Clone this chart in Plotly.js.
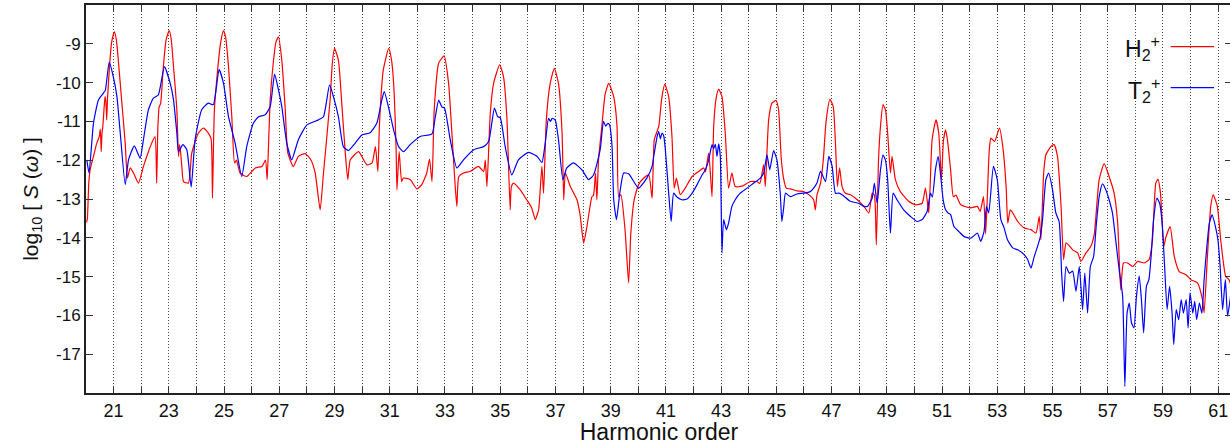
<!DOCTYPE html>
<html>
<head>
<meta charset="utf-8">
<script src="https://cdn.plot.ly/plotly-3.0.1.min.js"></script>
<style>
html,body{margin:0;padding:0;background:#fff;overflow:hidden;width:1230px;height:445px;}
#chart{width:1240px;height:445px;}
</style>
</head>
<body>
<div id="chart"></div>
<script>
// Harmonic order (x) and log10 S(omega) (y) for H2+
const h2X = [20.02,20.05,20.1,20.15,20.27,20.39,20.48,20.52,20.55,20.58,20.61,20.66,20.69,20.72,20.75,20.78,20.85,20.93,21.03,21.1,21.17,21.29,21.42,21.5,21.6,21.72,21.9,22.08,22.25,22.38,22.5,22.56,22.6,22.65,22.7,22.8,22.9,23.01,23.08,23.17,23.29,23.35,23.39,23.42,23.47,23.53,23.71,23.83,24.07,24.25,24.43,24.53,24.58,24.62,24.65,24.75,24.88,24.98,25.06,25.16,25.28,25.38,25.45,25.58,25.82,26.13,26.37,26.5,26.56,26.62,26.67,26.78,26.88,26.97,27.09,27.21,27.31,27.51,27.69,27.94,28.15,28.3,28.48,28.6,28.84,28.92,29.0,29.14,29.27,29.39,29.48,29.57,29.87,30.17,30.36,30.48,30.57,30.62,30.66,30.76,30.96,31.06,31.14,31.23,31.26,31.34,31.43,31.49,31.74,31.98,32.16,32.34,32.44,32.53,32.61,32.77,32.97,33.13,33.25,33.37,33.43,33.5,33.67,33.91,34.21,34.4,34.46,34.52,34.64,34.76,34.98,35.12,35.24,35.36,35.4,35.48,35.72,35.96,36.14,36.27,36.39,36.51,36.57,36.67,36.81,36.96,37.11,37.24,37.3,37.36,37.54,37.78,37.9,38.02,38.14,38.32,38.38,38.45,38.5,38.56,38.68,38.8,38.93,39.11,39.23,39.29,39.37,39.52,39.65,39.73,39.85,40.01,40.2,40.38,40.5,40.58,40.74,40.85,40.96,41.1,41.22,41.3,41.38,41.52,41.7,41.95,42.19,42.37,42.43,42.55,42.67,42.73,42.82,42.91,43.03,43.15,43.27,43.39,43.51,43.75,44.06,44.3,44.4,44.54,44.6,44.72,44.84,44.99,45.08,45.18,45.27,45.36,45.51,45.75,45.99,46.23,46.35,46.41,46.47,46.6,46.7,46.8,46.94,47.06,47.14,47.21,47.29,47.38,47.5,47.68,47.93,48.17,48.35,48.47,48.55,48.62,48.7,48.77,48.86,48.95,49.03,49.13,49.19,49.31,49.49,49.79,50.04,50.28,50.4,50.52,50.64,50.78,50.88,50.98,51.05,51.13,51.2,51.31,51.41,51.5,51.68,52.04,52.28,52.38,52.5,52.58,52.71,52.77,52.9,53.08,53.2,53.32,53.38,53.47,53.56,53.74,53.98,54.22,54.4,54.52,54.58,54.68,54.76,54.94,55.06,55.18,55.31,55.4,55.49,55.6,55.73,55.91,56.03,56.21,56.39,56.51,56.69,56.87,57.05,57.23,57.36,57.47,57.57,57.72,57.9,58.08,58.32,58.5,58.62,58.74,58.82,58.91,59.03,59.1,59.26,59.41,59.59,59.83,60.01,60.25,60.43,60.49,60.61,60.73,60.82,60.97,61.09,61.27,61.39,61.5];
const h2Y = [-13.6,-13.5,-12.6,-12.25,-11.9,-11.56,-11.39,-11.2,-11.78,-11.3,-11.13,-10.6,-10.36,-10.5,-10.96,-10.4,-9.6,-8.95,-8.69,-8.9,-9.42,-10.45,-11.56,-12.46,-12.2,-12.33,-12.59,-12.16,-11.8,-11.56,-11.39,-12.59,-11.2,-10.62,-10.55,-9.6,-8.9,-8.66,-8.85,-9.59,-10.7,-11.9,-11.6,-11.75,-12.16,-12.55,-12.59,-11.82,-11.3,-11.17,-11.3,-11.45,-12.98,-11.5,-10.7,-9.8,-8.95,-8.66,-8.85,-9.59,-10.88,-12.07,-12.0,-12.33,-12.42,-12.2,-12.16,-12.0,-12.5,-11.4,-10.45,-9.5,-8.95,-8.82,-9.42,-10.62,-11.82,-12.16,-11.9,-11.83,-12.0,-12.33,-13.28,-12.33,-10.45,-9.5,-9.12,-9.42,-10.62,-11.82,-12.5,-11.99,-11.78,-12.12,-12.07,-11.65,-12.29,-11.2,-10.62,-9.7,-9.12,-9.4,-10.02,-11.73,-12.76,-11.78,-12.55,-12.46,-12.5,-12.74,-12.63,-12.33,-11.97,-12.55,-10.7,-9.5,-9.31,-10.02,-11.3,-12.68,-13.19,-12.42,-12.33,-12.29,-12.16,-12.29,-12.0,-12.68,-10.79,-10.02,-9.54,-9.85,-10.88,-13.28,-12.7,-12.59,-12.76,-13.02,-13.23,-13.53,-13.28,-12.16,-12.85,-10.96,-10.02,-9.63,-10.02,-11.3,-13.02,-12.33,-12.68,-13.02,-13.45,-14.14,-13.71,-12.94,-12.9,-12.33,-13.02,-11.99,-11.13,-10.3,-10.02,-10.36,-11.13,-12.94,-12.89,-13.79,-15.16,-13.88,-13.02,-12.63,-12.46,-12.38,-12.98,-11.47,-11.13,-10.4,-10.04,-10.36,-11.39,-12.72,-12.46,-12.89,-12.72,-12.42,-12.29,-12.2,-12.3,-11.82,-12.94,-11.13,-10.4,-10.17,-10.36,-11.3,-12.72,-12.33,-12.68,-12.67,-12.55,-12.55,-12.6,-12.12,-12.68,-10.96,-10.53,-10.46,-10.7,-11.99,-12.5,-12.72,-12.74,-12.79,-12.81,-12.92,-13.02,-13.28,-12.9,-12.59,-11.99,-11.0,-10.43,-10.62,-11.56,-12.68,-12.2,-12.68,-12.85,-12.89,-13.02,-13.19,-13.36,-12.85,-12.9,-14.18,-11.99,-11.13,-10.57,-10.7,-11.3,-12.33,-11.9,-12.5,-12.81,-13.06,-13.15,-13.11,-12.72,-13.36,-11.47,-10.96,-11.3,-12.5,-11.5,-11.22,-11.5,-12.25,-12.94,-12.9,-13.15,-13.23,-13.19,-13.32,-12.94,-13.9,-11.73,-11.43,-11.52,-11.17,-11.65,-12.68,-13.62,-13.28,-13.36,-13.58,-13.75,-13.79,-13.88,-13.45,-14.05,-12.33,-11.86,-11.65,-11.6,-11.9,-13.19,-14.56,-14.13,-14.2,-14.31,-14.39,-14.61,-14.39,-14.22,-13.92,-12.5,-12.09,-12.42,-12.85,-13.62,-15.34,-14.65,-14.65,-14.74,-14.61,-14.65,-14.56,-14.05,-12.59,-12.49,-12.85,-14.22,-14.0,-13.71,-14.48,-14.87,-14.95,-15.08,-15.16,-15.59,-15.93,-14.48,-13.19,-12.89,-13.19,-14.05,-14.99,-15.08,-15.3];

// Harmonic order (x) and log10 S(omega) (y) for T2+
const t2X = [20.03,20.11,20.27,20.45,20.63,20.7,20.84,20.99,21.12,21.24,21.42,21.54,21.75,21.96,22.08,22.26,22.44,22.62,22.84,23.05,23.17,23.29,23.35,23.51,23.65,23.81,23.95,24.19,24.43,24.61,24.82,24.98,25.16,25.4,25.64,25.82,26.06,26.25,26.49,26.67,26.83,26.97,27.09,27.27,27.45,27.69,28.0,28.42,28.6,28.82,28.96,29.14,29.32,29.5,29.75,29.99,30.29,30.53,30.71,30.8,30.95,31.14,31.32,31.5,31.74,32.1,32.53,32.65,32.77,32.89,32.98,33.19,33.43,33.67,34.04,34.4,34.58,34.79,34.91,35.0,35.18,35.42,35.66,36.03,36.33,36.51,36.63,36.75,36.82,36.88,36.99,37.11,37.27,37.41,37.65,37.96,38.2,38.38,38.62,38.74,38.82,38.9,38.96,39.05,39.11,39.21,39.33,39.47,39.65,40.01,40.32,40.5,40.55,40.68,40.74,40.8,40.86,40.92,40.98,41.1,41.19,41.28,41.4,41.58,41.77,41.95,42.13,42.31,42.43,42.55,42.67,42.73,42.79,42.85,42.91,42.97,43.03,43.09,43.19,43.27,43.39,43.51,43.69,43.94,44.18,44.42,44.54,44.66,44.76,44.9,45.02,45.14,45.2,45.27,45.33,45.51,45.75,45.99,46.23,46.35,46.47,46.6,46.78,46.9,47.02,47.14,47.26,47.38,47.68,47.98,48.17,48.3,48.47,48.55,48.65,48.77,48.86,48.95,49.03,49.13,49.23,49.37,49.61,49.86,50.1,50.28,50.46,50.58,50.65,50.76,50.86,50.94,51.04,51.13,51.22,51.31,51.43,51.61,51.8,52.04,52.28,52.4,52.52,52.61,52.69,52.86,53.0,53.13,53.25,53.37,53.56,53.74,53.98,54.1,54.22,54.34,54.46,54.56,54.64,54.76,54.86,55.0,55.12,55.24,55.33,55.4,55.49,55.61,55.73,55.85,55.97,56.09,56.17,56.27,56.37,56.49,56.58,56.69,56.81,56.93,57.05,57.17,57.3,57.42,57.54,57.62,57.7,57.78,57.86,57.95,58.04,58.14,58.22,58.3,58.4,58.49,58.58,58.66,58.78,58.88,58.97,59.06,59.15,59.24,59.33,59.39,59.48,59.57,59.66,59.74,59.84,59.91,59.98,60.08,60.15,60.22,60.32,60.41,60.49,60.59,60.68,60.78,60.9,60.99,61.07,61.16,61.26,61.34,61.45];
const t2Y = [-11.99,-12.33,-11.05,-10.45,-10.27,-10.2,-9.47,-9.85,-10.36,-11.3,-12.63,-11.99,-11.63,-11.95,-11.47,-10.7,-10.4,-10.32,-9.59,-10.02,-10.45,-11.3,-11.78,-11.6,-11.73,-12.69,-11.47,-10.7,-10.53,-10.57,-9.66,-10.02,-10.88,-11.56,-12.42,-11.65,-11.05,-10.88,-10.83,-10.62,-9.78,-10.19,-10.62,-11.56,-11.99,-11.47,-11.09,-10.96,-10.88,-10.06,-10.36,-10.88,-11.65,-11.75,-11.56,-11.35,-11.29,-11.05,-10.45,-10.23,-10.62,-11.22,-11.65,-11.78,-11.6,-11.39,-11.32,-10.88,-10.45,-10.63,-10.65,-11.47,-12.2,-11.99,-11.73,-11.65,-11.52,-10.66,-10.88,-10.9,-11.65,-12.38,-11.99,-11.8,-11.9,-12.06,-11.56,-10.92,-11.0,-10.92,-10.96,-11.47,-12.5,-12.2,-12.07,-12.25,-12.5,-12.38,-11.73,-11.0,-11.12,-11.05,-11.09,-11.65,-13.02,-13.53,-12.85,-12.33,-12.35,-12.72,-12.45,-12.16,-11.95,-11.39,-11.26,-11.45,-11.3,-11.37,-11.73,-12.85,-13.58,-12.85,-12.95,-13.02,-13.0,-12.85,-12.63,-12.38,-12.25,-11.99,-11.6,-11.7,-11.59,-11.9,-11.58,-11.9,-14.39,-13.53,-13.79,-13.62,-13.19,-13.02,-12.85,-12.72,-12.59,-12.46,-12.33,-11.86,-12.25,-11.75,-11.99,-12.85,-13.58,-13.19,-12.85,-12.94,-12.87,-12.85,-12.81,-12.72,-12.59,-12.29,-12.55,-11.9,-12.16,-12.85,-12.85,-12.89,-13.06,-13.11,-13.19,-13.19,-12.98,-12.59,-13.11,-12.25,-11.86,-12.0,-12.5,-13.88,-12.85,-13.02,-13.28,-13.45,-13.58,-13.53,-13.32,-12.85,-12.95,-12.25,-11.9,-12.33,-13.02,-13.28,-13.36,-13.4,-13.71,-13.84,-13.97,-14.01,-13.88,-14.09,-13.84,-13.19,-13.36,-12.16,-12.5,-13.53,-13.75,-14.05,-14.26,-14.31,-14.44,-14.56,-14.78,-14.48,-14.22,-13.97,-13.53,-12.5,-12.33,-12.76,-13.36,-13.58,-14.91,-15.64,-14.74,-14.91,-14.86,-15.38,-14.74,-15.85,-14.91,-15.94,-14.74,-14.48,-13.71,-12.94,-12.61,-12.76,-13.02,-13.36,-14.13,-14.86,-15.51,-17.83,-15.94,-15.68,-16.19,-16.32,-15.51,-14.99,-15.59,-16.45,-15.25,-15.08,-14.39,-13.53,-12.98,-13.11,-13.62,-14.74,-15.85,-15.25,-15.94,-16.75,-15.85,-16.11,-15.59,-15.94,-15.59,-16.32,-15.42,-15.94,-15.64,-16.11,-15.68,-15.94,-15.08,-14.22,-13.62,-13.41,-13.71,-14.05,-14.74,-15.85,-15.08,-16.02,-15.5];

const seriesNames = ['H<sub>2</sub><sup>+</sup>', 'T<sub>2</sub><sup>+</sup>'];
const seriesColors = ['#ff0000', '#0000ff'];

const xTickVals = [21,23,25,27,29,31,33,35,37,39,41,43,45,47,49,51,53,55,57,59,61];
const xTickText = xTickVals.map(String);
const yTickVals = [-9,-10,-11,-12,-13,-14,-15,-16,-17];
const yTickText = ['-9','-10','-11','-12','-13','-14','-15','-16','-17'];

const FONT = 'Liberation Sans, Arial, Helvetica, sans-serif';

const traces = [
  {x: h2X, y: h2Y, type: 'scatter', mode: 'lines', name: seriesNames[0],
   line: {color: seriesColors[0], width: 1.2, shape: 'spline', smoothing: 0.5}, showlegend: false},
  {x: t2X, y: t2Y, type: 'scatter', mode: 'lines', name: seriesNames[1],
   line: {color: seriesColors[1], width: 1.2, shape: 'spline', smoothing: 0.5}, showlegend: false}
];

const layout = {
  width: 1240, height: 445,
  margin: {l: 86, r: 8, t: 5, b: 52},
  paper_bgcolor: '#ffffff', plot_bgcolor: '#ffffff',
  font: {family: FONT, size: 17, color: '#111'},
  showlegend: false,
  xaxis: {
    range: [20, 61.5], tickmode: 'array', tickvals: xTickVals, ticktext: xTickText,
    ticks: 'inside', ticklen: 6, tickwidth: 1, tickcolor: '#333',
    showline: true, linecolor: '#222', linewidth: 2, mirror: 'allticks',
    showgrid: true, gridcolor: '#444', gridwidth: 1, griddash: '1px,2px',
    zeroline: false,
    minor: {dtick: 1, tick0: 20, ticks: 'inside', ticklen: 6, tickcolor: '#333',
            showgrid: true, gridcolor: '#444', gridwidth: 1, griddash: '1px,2px'},
    tickfont: {family: FONT, size: 18, color: '#111'},
    title: {text: 'Harmonic order', font: {family: FONT, size: 23, color: '#111'}, standoff: 1}
  },
  yaxis: {
    range: [-18, -8], tickmode: 'array', tickvals: yTickVals, ticktext: yTickText,
    ticks: 'inside', ticklen: 7, tickwidth: 1, tickcolor: '#333',
    showline: true, linecolor: '#222', linewidth: 2, mirror: 'allticks',
    showgrid: false, zeroline: false,
    tickfont: {family: FONT, size: 17, color: '#111'},
    title: {text: 'log<sub>10</sub> [ <i>S</i> (<i>ω</i>) ]', font: {family: FONT, size: 21, color: '#111'}, standoff: 12}
  },
  shapes: [
    {type: 'rect', xref: 'paper', yref: 'paper', x0: 0.92, x1: 0.998, y0: 0.696, y1: 0.985,
     fillcolor: '#ffffff', line: {width: 0}, layer: 'between'},
    {type: 'line', xref: 'paper', yref: 'paper', x0: 0.9465, x1: 0.9843, y0: 0.8925, y1: 0.8925,
     line: {color: seriesColors[0], width: 1.3}},
    {type: 'line', xref: 'paper', yref: 'paper', x0: 0.9465, x1: 0.9843, y0: 0.787, y1: 0.787,
     line: {color: seriesColors[1], width: 1.3}}
  ],
  annotations: [
    {xref: 'paper', yref: 'paper', x: 0.939, y: 0.89, xanchor: 'right', yanchor: 'middle',
     text: seriesNames[0], showarrow: false, font: {family: FONT, size: 23, color: '#111'}},
    {xref: 'paper', yref: 'paper', x: 0.939, y: 0.78, xanchor: 'right', yanchor: 'middle',
     text: seriesNames[1], showarrow: false, font: {family: FONT, size: 23, color: '#111'}}
  ]
};

Plotly.newPlot('chart', traces, layout, {displayModeBar: false, staticPlot: true});
</script>
</body>
</html>
